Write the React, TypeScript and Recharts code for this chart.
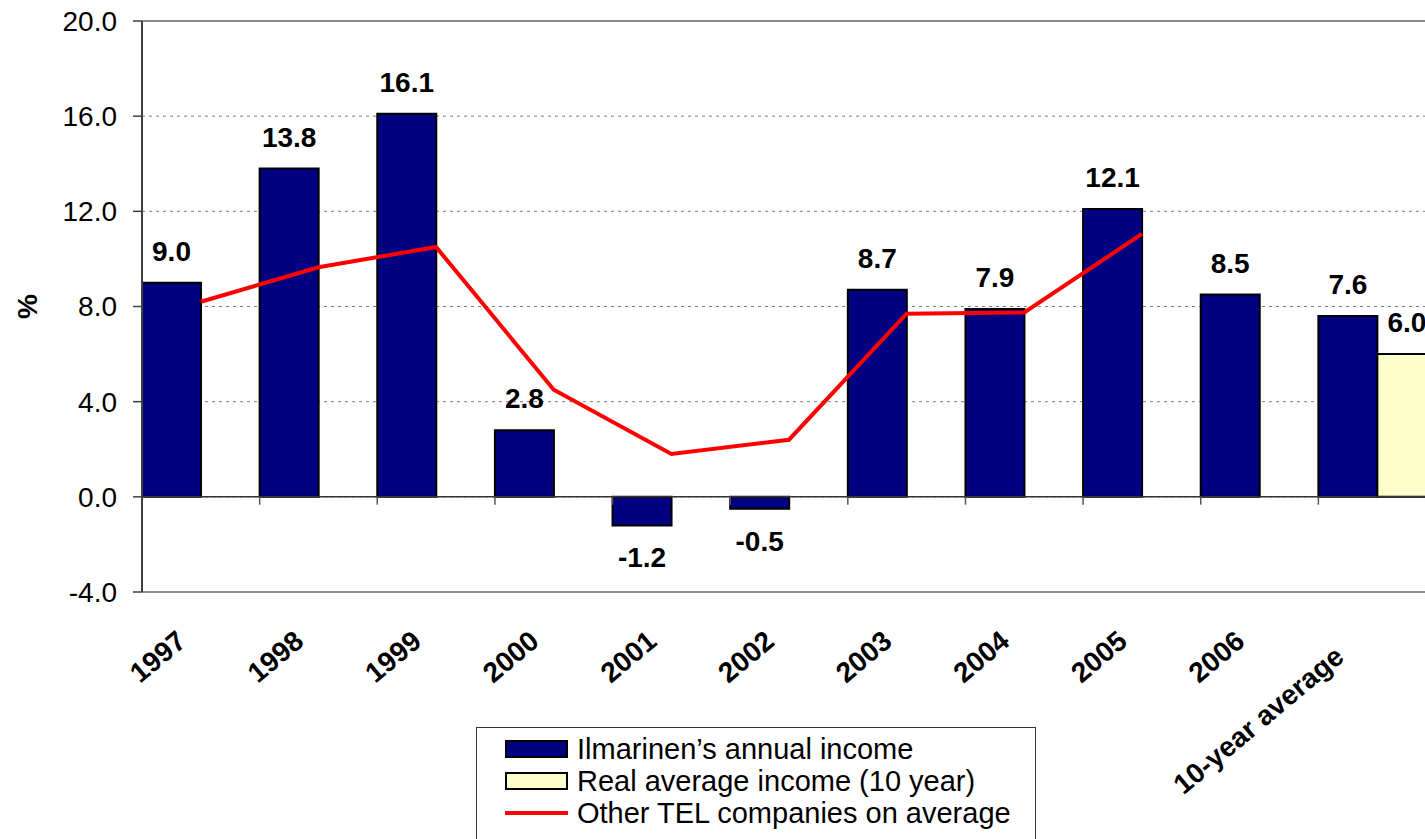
import React from 'react';
import { ComposedChart, Bar, Line, XAxis, YAxis, CartesianGrid, ReferenceLine, LabelList } from 'recharts';

const FONT = "'Liberation Sans', Arial, sans-serif";

const categories = ['1997', '1998', '1999', '2000', '2001', '2002', '2003', '2004', '2005', '2006', '10-year average'];
const annualIncome = [9.0, 13.8, 16.1, 2.8, -1.2, -0.5, 8.7, 7.9, 12.1, 8.5, 7.6];
const realAverageIncome = [null, null, null, null, null, null, null, null, null, null, 6.0];
const otherTelAverage = [8.2, 9.65, 10.5, 4.5, 1.8, 2.4, 7.7, 7.75, 11.05, null, null];
const yTicks = [-4, 0, 4, 8, 12, 16, 20];

const chartData = categories.map((name, i) => ({
  name,
  slot: i + 0.5,
  annual: annualIncome[i],
  real: realAverageIncome[i],
  tel: otherTelAverage[i],
}));

// category boundaries on the zero line (first one sits on the y axis)
const boundaries = categories.map((_, i) => i + 1);

const fmt = (v: any) => (v == null ? '' : Number(v).toFixed(1));

const CategoryTick = (props: any) => {
  const { x, y, payload } = props;
  const label = String(payload.value);
  const ax = x - 13;
  const ay = y + 44;
  const back = label.length > 6 ? 24 : 0;
  return (
    <text
      x={ax}
      y={ay}
      dx={-back}
      transform={`rotate(-40, ${ax}, ${ay})`}
      textAnchor="end"
      fontSize={28}
      fontWeight="bold"
      fontFamily={FONT}
      fill="#000"
    >
      {label}
    </text>
  );
};

const PercentLabel = (props: any) => {
  const vb = props.viewBox || { x: 0, y: 21, width: 142, height: 571 };
  const cx = vb.x + 27;
  const cy = vb.y + vb.height / 2;
  return (
    <text
      x={cx}
      y={cy}
      transform={`rotate(-90, ${cx}, ${cy})`}
      textAnchor="middle"
      dominantBaseline="central"
      fontSize={28}
      fontWeight="bold"
      fontFamily={FONT}
      fill="#000"
    >
      %
    </text>
  );
};

const labelStyle = { fontSize: 28, fontWeight: 'bold', fontFamily: FONT, fill: '#000' };

const legendItems = [
  { label: 'Ilmarinen’s annual income', kind: 'box', color: '#000080' },
  { label: 'Real average income (10 year)', kind: 'box', color: '#FFFFCC' },
  { label: 'Other TEL companies on average', kind: 'line', color: '#FF0000' },
];

const ChartLegend = () => (
  <div
    style={{
      position: 'absolute',
      left: 476,
      top: 727,
      width: 560,
      height: 140,
      border: '1px solid #333',
      boxSizing: 'border-box',
      paddingTop: 5,
      background: '#fff',
      fontFamily: FONT,
      fontSize: 29,
      color: '#000',
    }}
  >
    {legendItems.map((item) => (
      <div key={item.label} style={{ display: 'flex', alignItems: 'center', height: 32, whiteSpace: 'nowrap' }}>
        <div style={{ width: 63, marginLeft: 28, marginRight: 9, display: 'flex', alignItems: 'center' }}>
          {item.kind === 'box' ? (
            <div style={{ width: 63, height: 18, boxSizing: 'border-box', border: '2px solid #000', background: item.color }} />
          ) : (
            <div style={{ width: 63, height: 4, background: item.color }} />
          )}
        </div>
        <span>{item.label}</span>
      </div>
    ))}
  </div>
);

export default function App() {
  return (
    <div style={{ position: 'absolute', left: 0, top: 0, width: 1425, height: 839, overflow: 'hidden', background: '#fff' }}>
      <ComposedChart
        width={1440}
        height={839}
        data={chartData}
        margin={{ top: 21, right: 4, left: 0, bottom: 187 }}
        barGap={0}
        barCategoryGap={0}
      >
        <CartesianGrid horizontal vertical={false} stroke="#808080" strokeDasharray="3 4" />
        <XAxis
          dataKey="name"
          interval={0}
          axisLine={false}
          tickLine={false}
          height={60}
          tick={<CategoryTick />}
        />
        <XAxis xAxisId="pos" dataKey="slot" type="number" domain={[0, 11]} allowDataOverflow hide />
        <YAxis
          width={142}
          domain={[-4, 20]}
          ticks={yTicks}
          interval={0}
          tickFormatter={fmt}
          axisLine={{ stroke: '#404040', strokeWidth: 2 }}
          tickLine={{ stroke: '#404040', strokeWidth: 1.5 }}
          tickSize={9}
          tickMargin={16}
          tick={{ fontSize: 28, fill: '#000', fontFamily: FONT }}
          label={PercentLabel}
        />
        <ReferenceLine y={20} stroke="#8c8c8c" strokeWidth={2} />
        <ReferenceLine y={-4} stroke="#8c8c8c" strokeWidth={2} />
        <ReferenceLine y={0} stroke="#333" strokeWidth={1.5} />
        {boundaries.map((b) => (
          <ReferenceLine
            key={b}
            xAxisId="pos"
            segment={[{ x: b, y: 0 }, { x: b, y: -0.33 }]}
            stroke="#555"
            strokeWidth={1.5}
            ifOverflow="visible"
          />
        ))}
        <Bar dataKey="annual" fill="#000080" stroke="#000" strokeWidth={2} isAnimationActive={false}>
          <LabelList dataKey="annual" position="top" offset={22} formatter={fmt} style={labelStyle} />
        </Bar>
        <Bar dataKey="real" fill="#FFFFCC" stroke="#000" strokeWidth={2} isAnimationActive={false}>
          <LabelList dataKey="real" position="top" offset={22} formatter={fmt} style={labelStyle} />
        </Bar>
        <Line
          type="linear"
          dataKey="tel"
          stroke="#FF0000"
          strokeWidth={4}
          dot={false}
          activeDot={false}
          connectNulls={false}
          isAnimationActive={false}
        />
      </ComposedChart>
      <ChartLegend />
    </div>
  );
}
